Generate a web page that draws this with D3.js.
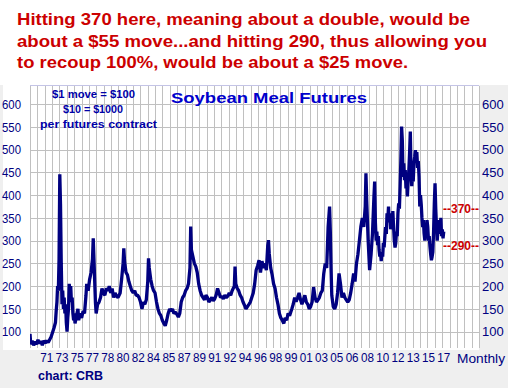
<!DOCTYPE html>
<html>
<head>
<meta charset="utf-8">
<script src="https://cdn.jsdelivr.net/npm/d3@7"></script>
<style>
body{margin:0;background:#efefef;}
svg{display:block;font-family:"Liberation Sans",Arial,sans-serif;}
</style>
</head>
<body>
<div id="chart"></div>
<script>
////////////////////////////////////////////////////////////
// DATA
////////////////////////////////////////////////////////////
const months = [
  '1970-01','1970-02','1970-04','1970-06','1970-08','1970-10','1970-12','1971-02','1971-04','1971-06','1971-08','1971-10','1971-12',
  '1972-02','1972-04','1972-06','1972-08','1972-10','1972-12','1973-01','1973-02','1973-03','1973-04','1973-05','1973-06','1973-07',
  '1973-08','1973-09','1973-10','1973-11','1973-12','1974-01','1974-02','1974-03','1974-04','1974-05','1974-06','1974-07','1974-08',
  '1974-09','1974-10','1974-11','1974-12','1975-01','1975-02','1975-03','1975-05','1975-07','1975-08','1975-10','1975-12','1976-02',
  '1976-04','1976-06','1976-07','1976-09','1976-11','1977-01','1977-03','1977-04','1977-05','1977-06','1977-07','1977-08','1977-10',
  '1977-12','1978-02','1978-04','1978-06','1978-08','1978-10','1978-12','1979-02','1979-04','1979-06','1979-08','1979-10','1979-12',
  '1980-02','1980-05','1980-07','1980-09','1980-10','1980-11','1981-01','1981-03','1981-05','1981-07','1981-09','1981-11','1982-01',
  '1982-03','1982-05','1982-07','1982-09','1982-11','1983-01','1983-03','1983-05','1983-07','1983-08','1983-09','1983-11','1984-01',
  '1984-03','1984-05','1984-07','1984-09','1984-11','1985-01','1985-03','1985-05','1985-07','1985-09','1985-11','1986-01','1986-03',
  '1986-05','1986-07','1986-09','1986-11','1987-01','1987-03','1987-05','1987-07','1987-09','1987-11','1988-01','1988-03','1988-05',
  '1988-06','1988-07','1988-09','1988-11','1989-01','1989-03','1989-05','1989-07','1989-09','1989-11','1990-01','1990-03','1990-05',
  '1990-07','1990-09','1990-11','1991-01','1991-03','1991-05','1991-07','1991-09','1991-11','1992-01','1992-03','1992-05','1992-07',
  '1992-09','1992-11','1993-01','1993-03','1993-06','1993-07','1993-08','1993-10','1993-12','1994-02','1994-04','1994-06','1994-08',
  '1994-10','1994-12','1995-02','1995-04','1995-06','1995-08','1995-10','1995-12','1996-02','1996-04','1996-06','1996-08','1996-10',
  '1996-12','1997-02','1997-04','1997-05','1997-06','1997-08','1997-10','1997-12','1998-02','1998-04','1998-06','1998-08','1998-10',
  '1998-12','1999-02','1999-04','1999-06','1999-08','1999-10','2000-01','2000-03','2000-05','2000-07','2000-09','2000-11','2001-01',
  '2001-03','2001-05','2001-07','2001-09','2001-11','2002-01','2002-03','2002-05','2002-07','2002-09','2002-11','2003-01','2003-03',
  '2003-05','2003-07','2003-09','2003-11','2004-01','2004-03','2004-05','2004-06','2004-07','2004-08','2004-10','2004-12','2005-02',
  '2005-04','2005-06','2005-08','2005-10','2005-12','2006-02','2006-04','2006-06','2006-08','2006-10','2006-12','2007-02','2007-04',
  '2007-06','2007-08','2007-10','2007-12','2008-02','2008-04','2008-06','2008-07','2008-08','2008-10','2008-12','2009-02','2009-04',
  '2009-06','2009-07','2009-08','2009-09','2009-10','2009-11','2009-12','2010-01','2010-02','2010-03','2010-04','2010-05','2010-06',
  '2010-07','2010-08','2010-09','2010-10','2010-11','2010-12','2011-01','2011-02','2011-03','2011-04','2011-05','2011-06','2011-07',
  '2011-08','2011-09','2011-10','2011-11','2011-12','2012-01','2012-02','2012-03','2012-04','2012-05','2012-06','2012-07','2012-08',
  '2012-09','2012-10','2012-11','2012-12','2013-01','2013-02','2013-03','2013-04','2013-05','2013-06','2013-07','2013-08','2013-09',
  '2013-10','2013-11','2013-12','2014-01','2014-02','2014-03','2014-04','2014-05','2014-06','2014-07','2014-08','2014-09','2014-10',
  '2014-11','2014-12','2015-01','2015-02','2015-03','2015-04','2015-05','2015-06','2015-07','2015-08','2015-09','2015-10','2015-11',
  '2015-12','2016-01','2016-02','2016-03','2016-04','2016-05','2016-06','2016-07','2016-08','2016-09','2016-10','2016-11','2016-12',
  '2017-01','2017-02','2017-03','2017-04','2017-05','2017-06'
]
const prices = [
  95,72,80,70,78,72,82,74,79,70,80,75,80,
  76,82,88,98,108,120,145,165,200,190,260,446,380,
  250,160,190,150,175,140,160,120,100,130,150,205,180,
  200,165,175,140,125,140,118,135,150,125,140,130,145,
  140,180,205,190,215,230,260,305,260,210,165,140,160,
  165,175,195,185,180,195,190,200,185,195,175,185,178,
  175,185,215,250,283,255,230,225,210,200,190,185,190,
  180,180,175,165,150,165,160,170,210,261,240,215,200,
  190,185,165,150,140,135,125,118,113,125,140,150,145,
  150,140,143,138,132,140,165,175,180,190,195,205,240,
  331,280,265,250,243,230,205,190,180,175,170,180,175,
  165,170,175,168,172,180,195,185,175,178,172,180,175,
  178,185,180,190,200,243,205,195,190,180,175,165,158,
  150,155,160,165,175,185,205,235,245,257,230,255,240,
  250,235,290,301,272,240,225,205,195,175,160,140,130,
  125,118,130,125,140,135,150,160,175,166,175,185,170,
  160,170,180,165,160,150,155,165,198,175,165,170,175,
  185,190,228,250,240,330,375,320,240,180,155,150,160,
  185,228,205,175,185,175,170,165,170,185,205,228,210,
  250,270,300,331,350,330,375,448,390,301,235,270,316,
  397,430,340,300,320,290,310,280,265,275,255,275,265,
  295,285,310,330,315,360,345,375,340,360,325,345,330,
  365,330,300,285,295,320,310,360,382,370,420,477,551,
  520,440,470,433,455,415,440,397,430,455,492,540,450,
  420,445,430,470,485,499,480,495,460,475,441,375,400,
  380,350,330,345,316,300,320,310,345,330,300,310,287,
  270,257,265,275,320,380,426,370,330,300,330,315,345,
  330,350,310,325,305,320
]
const yTicks = [100,150,200,250,300,350,400,450,500,550,600]
const xTickLabels = ['71','73','75','77','78','80','82','84','85','87','89','91','92','94',
  '96','98','99','01','03','05','06','08','10','12','13','15','17']
const headline = [
  'Hitting 370 here, meaning about a double, would be',
  'about a $55 move...and hitting 290, thus allowing you',
  'to recoup 100%, would be about a $25 move.'
]
const noteLines = ['$1 move = $100', '$10 = $1000', 'per futures contract']
const levelMarks = [370, 290]

////////////////////////////////////////////////////////////
// LAYOUT
////////////////////////////////////////////////////////////
const W = 508, H = 388
const plot = {left: 30, right: 479, top: 86, bottom: 348}
const navy = '#000080'
const red = '#cc0000'

const parse = d3.timeParse('%Y-%m')
const series = months.map((m, i) => ({date: parse(m), value: prices[i]}))

const x = d3.scaleTime()
  .domain([new Date(1970, 0, 1), new Date(2021, 5, 15)])
  .range([plot.left, plot.right])
const y = d3.scaleLinear().domain([64, 640]).range([plot.bottom, plot.top])
// evenly spaced vertical grid of the CRB chart
const gridX = d3.scaleLinear().domain([0, 61]).range([plot.left, plot.right])

const svg = d3.select('#chart').append('svg').attr('width', W).attr('height', H)

// backgrounds
svg.append('rect').attr('width', W).attr('height', H).attr('fill', '#efefef')
svg.append('rect').attr('x', 0).attr('y', 0).attr('width', W).attr('height', 85).attr('fill', '#fff')
svg.append('rect').attr('x', 3).attr('y', 85).attr('width', plot.right - 3).attr('height', plot.bottom + 2 - 85).attr('fill', '#fff')

// grid
const grid = svg.append('g').attr('stroke', '#c0c0c0').attr('stroke-width', 1)
grid.selectAll('.v').data(d3.range(62)).join('line').attr('class', 'v')
  .attr('x1', d => Math.round(gridX(d)) + 0.5).attr('x2', d => Math.round(gridX(d)) + 0.5)
  .attr('y1', plot.top).attr('y2', plot.bottom)
grid.selectAll('.h').data(yTicks).join('line').attr('class', 'h')
  .attr('x1', plot.left).attr('x2', plot.right)
  .attr('y1', d => Math.round(y(d)) + 0.5).attr('y2', d => Math.round(y(d)) + 0.5)
svg.append('line').attr('x1', plot.left).attr('x2', plot.right)
  .attr('y1', 85.5).attr('y2', 85.5).attr('stroke', '#c4c4e6')

// price line
svg.append('clipPath').attr('id', 'clip').append('rect')
  .attr('x', plot.left).attr('y', plot.top).attr('width', plot.right - plot.left).attr('height', plot.bottom - plot.top)
svg.append('path').datum(series)
  .attr('clip-path', 'url(#clip)')
  .attr('fill', 'none').attr('stroke', navy).attr('stroke-width', 3.3)
  .attr('stroke-linejoin', 'bevel')
  .attr('d', d3.line().x(d => x(d.date)).y(d => y(d.value)))

// y axis labels both sides
svg.append('g').selectAll('text').data(yTicks).join('text')
  .attr('x', 21).attr('y', d => y(d)).attr('dy', '0.36em')
  .attr('text-anchor', 'end').attr('font-size', 13).attr('fill', navy)
  .attr('textLength', 19).attr('lengthAdjust', 'spacingAndGlyphs')
  .text(d => d)
svg.append('g').selectAll('text').data(yTicks).join('text')
  .attr('x', 482).attr('y', d => y(d)).attr('dy', '0.36em')
  .attr('font-size', 13).attr('fill', navy)
  .text(d => d)

// x axis labels, one every 21 months from Dec 1971
svg.append('g').selectAll('text').data(xTickLabels).join('text')
  .attr('x', (d, i) => x(d3.timeMonth.offset(new Date(1971, 11, 1), 21 * i)))
  .attr('y', 362).attr('text-anchor', 'middle')
  .attr('font-size', 13).attr('fill', navy)
  .attr('textLength', 13).attr('lengthAdjust', 'spacingAndGlyphs')
  .text(d => d)
svg.append('text').attr('x', 457).attr('y', 363).attr('font-size', 13).attr('fill', navy)
  .attr('textLength', 48).attr('lengthAdjust', 'spacingAndGlyphs').text('Monthly')

// headline
const headWidths = [453, 470, 391]
svg.append('g').selectAll('text').data(headline).join('text')
  .attr('x', 17).attr('y', (d, i) => 25 + i * 21.7)
  .attr('font-size', 17).attr('font-weight', 'bold').attr('fill', red)
  .attr('textLength', (d, i) => headWidths[i]).attr('lengthAdjust', 'spacingAndGlyphs')
  .text(d => d)

// chart title
svg.append('text').attr('x', 171).attr('y', 103.3)
  .attr('font-size', 15.5).attr('font-weight', 'bold').attr('fill', '#0000cc')
  .attr('textLength', 196).attr('lengthAdjust', 'spacingAndGlyphs')
  .text('Soybean Meal Futures')

// contract note
const noteX = [52, 63, 40], noteY = [97.5, 112.5, 127.5], noteW = [83, 60, 117]
svg.append('g').selectAll('text').data(noteLines).join('text')
  .attr('x', (d, i) => noteX[i]).attr('y', (d, i) => noteY[i])
  .attr('font-size', 11).attr('font-weight', 'bold').attr('fill', '#0000a8')
  .attr('textLength', (d, i) => noteW[i]).attr('lengthAdjust', 'spacingAndGlyphs')
  .text(d => d)

// target levels
svg.append('g').selectAll('text').data(levelMarks).join('text')
  .attr('x', 443).attr('y', d => y(d)).attr('dy', '0.36em')
  .attr('font-size', 12).attr('font-weight', 'bold').attr('fill', red)
  .attr('textLength', 36).attr('lengthAdjust', 'spacingAndGlyphs')
  .text(d => '--' + d + '--')

svg.append('text').attr('x', 38).attr('y', 380)
  .attr('font-size', 12).attr('font-weight', 'bold').attr('fill', navy)
  .attr('textLength', 65).attr('lengthAdjust', 'spacingAndGlyphs')
  .text('chart: CRB')
</script>
</body>
</html>
